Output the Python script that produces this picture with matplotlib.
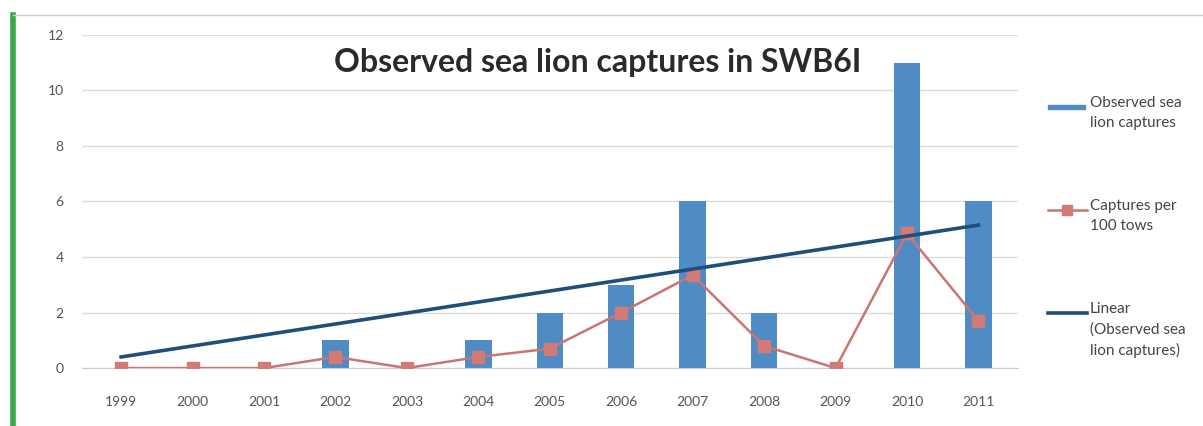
import numpy as np
import matplotlib
matplotlib.use('Agg')
import matplotlib.pyplot as plt
from matplotlib.lines import Line2D
from matplotlib.patches import Rectangle

plt.rcParams['font.family'] = ['Lato', 'DejaVu Sans']

years = ['1999', '2000', '2001', '2002', '2003', '2004', '2005',
         '2006', '2007', '2008', '2009', '2010', '2011']
captures = [0, 0, 0, 1, 0, 1, 2, 3, 6, 2, 0, 11, 6]
per_100_tows = [0, 0, 0, 0.4, 0, 0.4, 0.7, 2.0, 3.35, 0.8, 0, 4.85, 1.7]
trend_ends = [0.4, 5.15]   # linear trend read at 1999 and 2011

bar_col = '#4f8cc6'
red_col = '#c97572'
trend_col = '#1e4f78'

fig = plt.figure(figsize=(12.03, 4.26), dpi=100)
ax = fig.add_axes([0.068, 0.136, 0.778, 0.782])

x = np.arange(len(years))
ax.bar(x, captures, width=0.37, color=bar_col, zorder=2)
ax.plot(x, per_100_tows, color=red_col, lw=1.8, marker='s', ms=9,
        mfc='#d27a76', mec='#d27a76', zorder=3)
ax.plot([x[0], x[-1]], trend_ends, color=trend_col, lw=2.6, zorder=4)

ax.set_xlim(-0.55, len(years) - 0.45)
ax.set_ylim(0, 12)
ax.set_yticks(range(0, 13, 2))
ax.set_xticks(x)
ax.set_xticklabels(years)
ax.grid(axis='y', color='#dcdcdc', lw=1)
ax.set_axisbelow(True)
for s in ['top', 'right', 'left']:
    ax.spines[s].set_visible(False)
ax.spines['bottom'].set_color('#cccccc')
ax.tick_params(axis='both', length=0, labelsize=10, colors='#555555')
ax.tick_params(axis='x', pad=20)
ax.tick_params(axis='y', pad=13)

fig.text(0.497, 0.854, 'Observed sea lion captures in SWB6I', ha='center', va='center',
         fontsize=23, fontweight='bold', color='#2a2a2a')

# legend drawn by hand so each key sits on the first text line
def fy(py):
    return 1 - py / 426

def fx(px):
    return px / 1203

fig.add_artist(Rectangle((fx(1048), fy(109)), fx(1085) - fx(1048), 4 / 426,
                         color=bar_col, transform=fig.transFigure))
fig.add_artist(Line2D([fx(1048), fx(1087)], [fy(210), fy(210)], color=red_col, lw=1.8,
                      transform=fig.transFigure))
fig.add_artist(Line2D([fx(1067)], [fy(210)], marker='s', ms=7, mfc='#d27a76', mec='#d27a76',
                      transform=fig.transFigure))
fig.add_artist(Line2D([fx(1048), fx(1087)], [fy(313), fy(313)], color=trend_col, lw=2.6,
                      transform=fig.transFigure))

leg_labels = ['Observed sea\nlion captures', 'Captures per\n100 tows', 'Linear\n(Observed sea\nlion captures)']
leg_y = [107, 210, 313]
for lab, py in zip(leg_labels, leg_y):
    fig.text(fx(1090), fy(py - 11), lab, ha='left', va='top', fontsize=11,
             color='#444444', linespacing=1.55)

# green left border and top rule
fig.add_artist(Line2D([0.011, 0.011], [0, 0.965], color='#3aa845', lw=4))
fig.add_artist(Line2D([0.011, 1.0], [0.965, 0.965], color='#cfcfcf', lw=1))

fig.savefig('out.png', dpi=100)
